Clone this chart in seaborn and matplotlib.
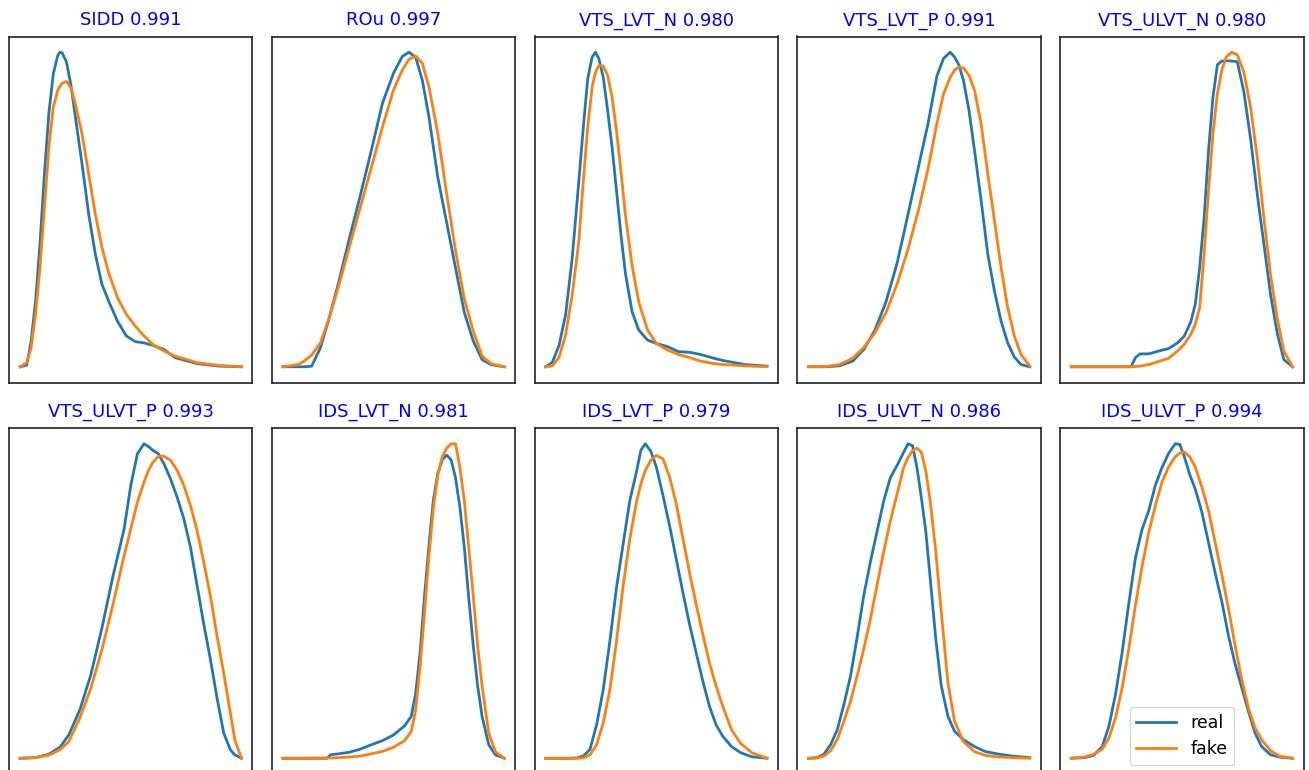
import matplotlib
matplotlib.use("Agg")
import matplotlib.pyplot as plt
import seaborn as sns

# feature names and similarity scores shown in the panel titles
names = ["SIDD", "ROu", "VTS_LVT_N", "VTS_LVT_P", "VTS_ULVT_N",
         "VTS_ULVT_P", "IDS_LVT_N", "IDS_LVT_P", "IDS_ULVT_N", "IDS_ULVT_P"]
scores = [0.991, 0.997, 0.980, 0.991, 0.980, 0.993, 0.981, 0.979, 0.986, 0.994]

# densities (x scaled 0-100, density in % of panel peak)
sidd_x = [0, 3, 5, 7, 9, 11, 13, 15, 17, 18, 19, 21, 23, 25, 28, 31, 34, 37, 40, 44, 48, 52, 56, 60, 65, 70, 80, 90, 100]
sidd_real = [0, 0.5, 8.2, 20.9, 39, 61.3, 80.4, 93.1, 98.9, 100, 99.8, 96.8, 89.4, 79.3, 64.4, 48.5, 35.8, 26.2, 20.9,
             14.5, 9.8, 8.0, 7.6, 6.8, 5.5, 2.9, 1.0, 0.2, 0]
sidd_fake = [0, 1.3, 6.1, 16.7, 31.5, 50.6, 69.7, 82.5, 87.8, 89.2, 90.1, 90.7, 88.6, 83.5, 74, 61.3, 48.5, 37.9, 29.9,
             22, 16.7, 13, 9.8, 7.1, 5, 3.4, 1.3, 0.4, 0]

rou_x = [0, 7, 10, 13, 17, 21, 25, 30, 35, 40, 45, 50, 54, 57, 60, 63, 66, 70, 74, 78, 82, 86, 90, 94, 100]
rou_real = [0, 0, 0, 0.2, 6.1, 15.7, 26.3, 40.7, 54.5, 68.9, 83.8, 93.4, 98.7, 100, 98.4, 91.1, 79.4, 60.2, 45.8,
            31.4, 17.2, 8.2, 2.3, 0.7, 0]
rou_fake = [0, 0.7, 2, 3.7, 7.6, 15.7, 25.2, 38, 50.7, 63.5, 76.3, 88, 94.4, 97.8, 98.8, 96.5, 89, 74.1, 55, 36.9,
            21.5, 11.4, 3.4, 1, 0]

vlvtn_x = [0, 3, 6, 9, 12, 15, 17, 19, 21, 22.5, 24, 26, 28, 30, 32, 34, 36, 39, 42, 46, 50, 55, 60, 65, 70, 75, 80, 90, 100]
vlvtn_real = [0, 1.4, 6.7, 16.5, 34.6, 59.1, 76.1, 91.5, 98.4, 99.9, 97.9, 92, 81.4, 69.7, 55.9, 42, 29.8, 17.6,
              11.7, 8.5, 7.4, 6.4, 4.8, 4.6, 3.9, 2.9, 2, 0.7, 0.2]
vlvtn_fake = [0, 0.3, 2.9, 10.1, 22.9, 39.9, 59.1, 76.1, 88.9, 93.6, 95.6, 95.5, 92.6, 85.6, 75, 62.2, 48.4, 32.4,
              20.7, 11.7, 7.4, 5.3, 3.9, 2.9, 1.8, 1.1, 0.7, 0.3, 0]

vlvtp_x = [0, 8, 14, 20, 25, 30, 35, 40, 45, 50, 54, 58, 61, 64, 66, 68, 70, 72.5, 75, 78, 81, 84, 87, 90, 93, 96, 100]
vlvtp_real = [0, 0, 0.3, 1.8, 5.5, 11.6, 20.6, 32.8, 48.5, 64.5, 77.2, 92.3, 97.9, 99.9, 98.4, 95.8, 91, 81.5, 68.8,
              52.8, 35.8, 24.1, 14.5, 7.6, 3.1, 0.7, 0]
vlvtp_fake = [0, 0.1, 0.7, 2.7, 6.1, 10.8, 17.2, 26.2, 37.4, 50.6, 62.8, 77.2, 86.6, 91.9, 94.2, 95.2, 94.9, 92.6,
              87.8, 77.2, 61.3, 46.5, 31.6, 18.8, 9.8, 3.9, 0.2]

vulvtn_x = [0, 10, 20, 27, 29, 31, 35, 40, 44, 48, 51, 54, 56, 58, 60, 62, 64, 66, 68, 70, 72.5, 75, 78, 81, 84, 87,
            90, 93, 96, 100]
vulvtn_real = [0, 0, 0, 0, 2.9, 4.1, 4.1, 5.1, 5.8, 7.6, 9.7, 14.3, 19.8, 31.5, 47.3, 68.6, 85.6, 96, 97.2, 97.3,
               97.2, 97, 87.3, 72.5, 55, 39.1, 23.1, 10.8, 2.3, 0]
vulvtn_fake = [0, 0, 0, 0, 0.1, 0.2, 0.7, 1.8, 2.7, 5, 7.1, 10.3, 13.5, 18.8, 35.8, 55.9, 74, 86.8, 94.3, 98.5, 100,
               99.2, 93.6, 82.5, 66.6, 47.5, 29.4, 15.6, 5, 0]

vulvtp_x = [0, 7, 13, 18, 22, 27, 32, 37, 42, 47, 50, 53, 56, 58, 60, 62.5, 65, 68, 71, 74, 77, 80, 83, 86, 89, 92,
            95, 97, 100]
vulvtp_real = [0, 0.2, 1.3, 3.5, 7.4, 15.4, 26.6, 41.5, 58, 72.9, 86.7, 96.8, 100, 99.1, 97.9, 96.8, 93.6, 88.8,
               82.9, 76.1, 67, 54.8, 42.6, 31.4, 19.1, 8, 2.7, 1.1, 0]
vulvtp_fake = [0, 0.2, 1, 2.7, 5.3, 12.8, 22.3, 34.6, 49, 64.4, 72.9, 81.4, 87.8, 91.5, 94.1, 96, 96, 94.7, 91.5,
               86.7, 80.3, 72.3, 62.2, 51.6, 38.8, 27.1, 14.4, 5.9, 0]

ilvtn_x = [0, 10, 20, 21.5, 25, 30, 35, 40, 45, 50, 55, 58, 60, 62, 64, 66, 68, 70, 72, 74, 76, 78, 80, 82, 84, 86,
           88, 90, 93, 96, 100]
ilvtn_real = [0, 0, 0, 1.1, 1.4, 1.9, 2.9, 4.3, 5.6, 7.4, 10.3, 13.3, 20.7, 33.5, 51.6, 67.6, 82, 90.4, 94.7, 96.2,
              94.7, 89, 79.5, 66.7, 50.7, 35.8, 22.9, 13.3, 4.3, 1.1, 0]
ilvtn_fake = [0, 0, 0.1, 0.1, 0.2, 0.4, 0.7, 1.4, 2.2, 3.5, 5.6, 8.5, 15.4, 29.3, 46.3, 64.4, 79.3, 89.9, 95.7, 98.4,
              99.8, 99.8, 92.1, 81.5, 66.6, 51.6, 35.6, 22.9, 8, 2.1, 0]

ilvtp_x = [0, 10, 14, 17, 20, 23, 26, 29, 32, 35, 38, 41, 43, 45, 47.5, 50, 53, 56, 59, 62, 65, 68, 71, 74, 77, 80,
           84, 88, 93, 100]
ilvtp_real = [0, 0, 0.1, 0.7, 2.8, 10.6, 21.8, 37.2, 54.3, 68.1, 81.9, 91, 97.9, 100, 97.6, 92.6, 83.5, 73.9, 63.3,
              52.7, 42.6, 33.5, 24.5, 16.5, 10.6, 7, 3.7, 1.8, 0.5, 0]
ilvtp_fake = [0, 0, 0, 0.1, 1.1, 4.3, 11.2, 21.8, 37.2, 54.8, 69.7, 81.4, 87.2, 91.5, 94.7, 96.3, 95.2, 89.4, 80.9,
              69.9, 59, 48.9, 39.4, 30.3, 22.9, 16.5, 9, 4.8, 1.8, 0]

iulvtn_x = [0, 4, 7, 10, 13, 16, 19, 22, 25, 28, 31, 34, 37, 40, 43, 45, 47, 49, 51, 53, 55, 57.5, 60, 63, 66, 70,
            75, 80, 86, 92, 100]
iulvtn_real = [0, 0.2, 1.3, 4.3, 9, 17, 26, 38.3, 51.6, 62.2, 71.8, 81.4, 88.8, 92.6, 96.8, 99.5, 98.9, 92, 82.4,
               71.8, 56.9, 37.8, 22.9, 13.3, 8.5, 5.9, 3.7, 2.1, 1.3, 0.7, 0.2]
iulvtn_fake = [0, 0.1, 0.7, 2.4, 5.9, 11.7, 18.1, 26.1, 34.6, 44.1, 54.8, 65.4, 75, 83.5, 92, 95.2, 97.3, 98.1, 96.8,
               91, 81.4, 65.4, 46.2, 23.9, 11.7, 5.3, 2.1, 0.9, 0.4, 0.2, 0]

iulvtp_x = [0, 6, 10, 14, 17, 20, 23, 26, 29, 32, 35, 38, 41, 44, 47, 49, 51, 53.5, 56, 59, 62, 65, 68, 71, 74, 77,
            80, 83, 86, 90, 94, 100]
iulvtp_real = [0, 0.2, 0.9, 3.7, 10.1, 20.2, 33.5, 48.9, 63.3, 72.3, 78.2, 86.2, 91.8, 96.3, 99.3, 99.1, 95.4, 89.6,
               85, 77.7, 68.1, 58.5, 49.5, 38.8, 29.8, 22.3, 14.9, 8, 3.7, 1.1, 0.4, 0]
iulvtp_fake = [0, 0.4, 1.2, 2.9, 6.4, 12.8, 22.3, 34.6, 48.4, 60.6, 71.3, 79.8, 87.2, 92, 95.2, 96.3, 96.7, 95.2, 92,
               85.6, 78.2, 68.1, 58, 47.3, 35.6, 25, 16, 9.6, 5.9, 2.4, 0.7, 0]

panels = [
    (sidd_x, sidd_real, sidd_fake),
    (rou_x, rou_real, rou_fake),
    (vlvtn_x, vlvtn_real, vlvtn_fake),
    (vlvtp_x, vlvtp_real, vlvtp_fake),
    (vulvtn_x, vulvtn_real, vulvtn_fake),
    (vulvtp_x, vulvtp_real, vulvtp_fake),
    (ilvtn_x, ilvtn_real, ilvtn_fake),
    (ilvtp_x, ilvtp_real, ilvtp_fake),
    (iulvtn_x, iulvtn_real, iulvtn_fake),
    (iulvtp_x, iulvtp_real, iulvtp_fake),
]

W, H = 1309, 770
fig, axes = plt.subplots(2, 5, figsize=(W / 100, H / 100), dpi=100)

# panel layout in pixels; the bottom row runs off the bottom of the image
aw, ah = 243.5, 346
for i, ax in enumerate(axes.flat):
    row, col = divmod(i, 5)
    left = 9 + col * 262.8
    top = 36.5 + row * 391.5
    ax.set_position([left / W, 1 - (top + ah) / H, aw / W, ah / H])

    x, real, fake = panels[i]
    sns.lineplot(x=x, y=real, ax=ax, color="tab:blue", linewidth=2.0, label="real")
    sns.lineplot(x=x, y=fake, ax=ax, color="tab:orange", linewidth=2.0, label="fake")

    ax.set_title(f"{names[i]} {scores[i]:.3f}", color="blue", fontsize=13, pad=8)
    ax.set_xticks([])
    ax.set_yticks([])
    ax.set_xlabel("")
    ax.set_ylabel("")
    for sp in ax.spines.values():
        sp.set_color("#222222")
        sp.set_linewidth(1.2)
    if i == 9:
        ax.legend(loc="lower center", fontsize=12.5, handlelength=2.3)
    else:
        ax.get_legend().remove()

fig.savefig("out.png", dpi=100)
